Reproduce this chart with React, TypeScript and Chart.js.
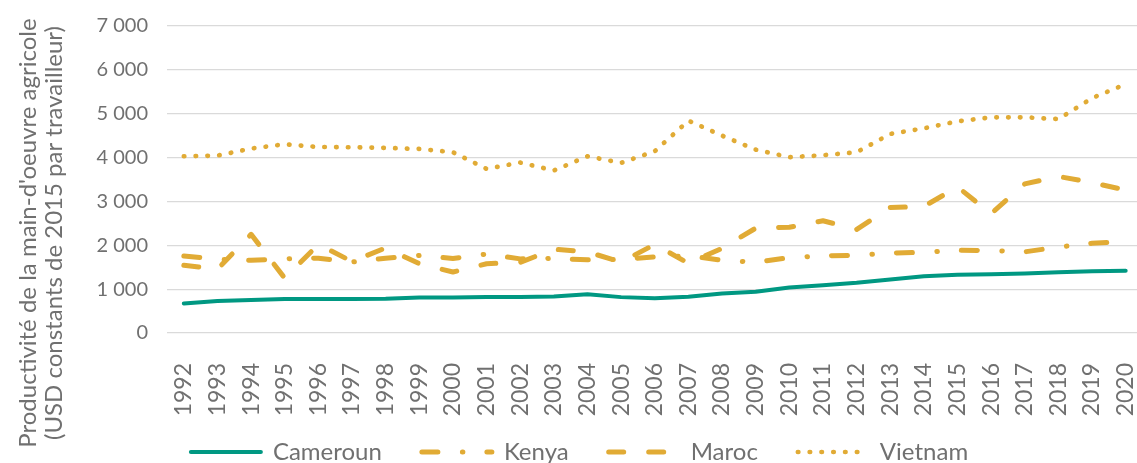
import React, { useEffect, useRef } from "react";
import { Chart, registerables } from "chart.js";

Chart.register(...registerables);

const years = [
  "1992", "1993", "1994", "1995", "1996", "1997", "1998", "1999", "2000", "2001",
  "2002", "2003", "2004", "2005", "2006", "2007", "2008", "2009", "2010", "2011",
  "2012", "2013", "2014", "2015", "2016", "2017", "2018", "2019", "2020",
];

const cameroun = [
  675, 727, 750, 773, 773, 773, 780, 811, 811, 818,
  818, 833, 886, 818, 790, 825, 902, 939, 1038, 1091,
  1144, 1220, 1295, 1326, 1341, 1356, 1386, 1409, 1420,
];

const kenya = [
  1755, 1680, 1660, 1690, 1705, 1620, 1705, 1770, 1700, 1800,
  1690, 1700, 1670, 1680, 1735, 1760, 1660, 1614, 1720, 1755,
  1775, 1820, 1840, 1885, 1880, 1850, 1960, 2045, 2090,
];

const maroc = [
  1545, 1455, 2250, 1250, 2020, 1630, 1940, 1580, 1390, 1580,
  1610, 1910, 1850, 1615, 2020, 1590, 1930, 2390, 2410, 2560,
  2360, 2860, 2885, 3330, 2720, 3400, 3570, 3430, 3260,
];

const vietnam = [
  4030, 4045, 4205, 4303, 4242, 4235, 4220, 4197, 4121, 3742,
  3886, 3705, 4030, 3879, 4144, 4841, 4500, 4182, 4008, 4053,
  4121, 4538, 4667, 4826, 4917, 4917, 4879, 5356, 5674,
];

const yTickLabels = ["0", "1 000", "2 000", "3 000", "4 000", "5 000", "6 000", "7 000"];
const seriesNames = ["Cameroun", "Kenya", "Maroc", "Vietnam"];
const yTitleLines = [
  "Productivité de la main-d'oeuvre agricole",
  "(USD constants de 2015 par travailleur)",
];

const TEAL = "#009882";
const GOLD = "#E1AB35";
const TEXT = "#707070";
const GRID = "#DADADA";
const FONT = "Lato, 'Open Sans', sans-serif";

const CANVAS_W = 1145;
const CANVAS_H = 494;
const LEGEND_FONT = 24;
const LEGEND_PAD = 40;

const layoutPlugin = {
  id: "layoutPlugin",
  afterLayout(chart: any) {
    const lg = chart.legend;
    if (!lg) return;
    const current = lg.top + LEGEND_PAD + LEGEND_FONT / 2;
    const dy = 452 - current;
    const dx = 7;
    lg.top += dy;
    lg.bottom += dy;
    lg.left += dx;
    lg.right += dx;
  },
  afterDraw(chart: any) {
    const ctx = chart.ctx;
    ctx.save();
    ctx.fillStyle = TEXT;
    ctx.font = `24px ${FONT}`;
    ctx.textAlign = "center";
    ctx.textBaseline = "middle";
    const xs = [28, 54];
    yTitleLines.forEach((line, i) => {
      ctx.save();
      ctx.translate(xs[i], 233);
      ctx.rotate(-Math.PI / 2);
      ctx.fillText(line, 0, 0);
      ctx.restore();
    });
    ctx.restore();
  },
};

export default function App() {
  const canvasRef = useRef<HTMLCanvasElement | null>(null);

  useEffect(() => {
    const canvas = canvasRef.current;
    if (!canvas) return;
    const chart = new Chart(canvas, {
      type: "line",
      data: {
        labels: years,
        datasets: [
          {
            label: seriesNames[0],
            data: cameroun,
            borderColor: TEAL,
            backgroundColor: TEAL,
            borderWidth: 4,
            borderCapStyle: "round",
            borderJoinStyle: "round",
            pointRadius: 0,
            tension: 0,
          },
          {
            label: seriesNames[1],
            data: kenya,
            borderColor: GOLD,
            backgroundColor: GOLD,
            borderWidth: 5,
            borderDash: [16, 24.5, 0.5, 24],
            borderCapStyle: "round",
            borderJoinStyle: "round",
            pointRadius: 0,
            tension: 0,
          },
          {
            label: seriesNames[2],
            data: maroc,
            borderColor: GOLD,
            backgroundColor: GOLD,
            borderWidth: 5,
            borderDash: [15, 25],
            borderCapStyle: "round",
            borderJoinStyle: "round",
            pointRadius: 0,
            tension: 0,
          },
          {
            label: seriesNames[3],
            data: vietnam,
            borderColor: GOLD,
            backgroundColor: GOLD,
            borderWidth: 4.7,
            borderDash: [0.5, 11.3],
            borderCapStyle: "round",
            borderJoinStyle: "round",
            pointRadius: 0,
            tension: 0,
          },
        ],
      },
      options: {
        animation: false,
        responsive: false,
        devicePixelRatio: 1,
        layout: { padding: { top: 26, left: 0, right: 0, bottom: 0 } },
        scales: {
          x: {
            type: "category",
            offset: true,
            grid: { display: false, drawTicks: false },
            border: { display: false },
            ticks: {
              autoSkip: false,
              minRotation: 90,
              maxRotation: 90,
              padding: 30,
              color: TEXT,
              font: { family: FONT, size: 23 },
            },
            afterFit: (s: any) => {
              s.height = CANVAS_H - 333 - (LEGEND_FONT + LEGEND_PAD + 10);
              s.paddingLeft = 0;
              s.paddingRight = 0;
            },
          },
          y: {
            min: 0,
            max: 7000,
            ticks: {
              stepSize: 1000,
              padding: 19,
              color: TEXT,
              font: { family: FONT, size: 20 },
              callback: (v: any) => yTickLabels[Math.round(Number(v) / 1000)],
            },
            grid: { color: GRID, lineWidth: 1.2, drawTicks: false },
            border: { display: false },
            afterFit: (s: any) => {
              s.width = 167;
              s.paddingTop = 0;
              s.paddingBottom = 0;
            },
          },
        },
        plugins: {
          tooltip: { enabled: false },
          title: { display: false },
          legend: {
            position: "bottom",
            labels: {
              usePointStyle: true,
              pointStyleWidth: 70,
              padding: LEGEND_PAD,
              color: TEXT,
              font: { family: FONT, size: LEGEND_FONT },
              generateLabels: (c: any) =>
                c.data.datasets.map((ds: any, i: number) => ({
                  text: ds.label,
                  fillStyle: "rgba(0,0,0,0)",
                  strokeStyle: ds.borderColor,
                  lineWidth: ds.borderWidth,
                  lineDash: ds.borderDash || [],
                  lineCap: "round",
                  pointStyle: "line",
                  rotation: 0,
                  hidden: false,
                  datasetIndex: i,
                  fontColor: TEXT,
                })),
            },
          },
        },
      },
      plugins: [layoutPlugin],
    } as any);

    const fonts: any = (document as any).fonts;
    if (fonts && fonts.load) {
      Promise.all([fonts.load(`24px Lato`)]).then(() => chart.update()).catch(() => {});
    }

    return () => {
      chart.destroy();
    };
  }, []);

  return (
    <div
      style={{
        position: "fixed",
        left: 0,
        top: 0,
        width: 1137,
        height: 463,
        overflow: "hidden",
        background: "#ffffff",
      }}
    >
      <canvas
        ref={canvasRef}
        width={CANVAS_W}
        height={CANVAS_H}
        style={{ display: "block", width: CANVAS_W, height: CANVAS_H }}
      />
    </div>
  );
}
